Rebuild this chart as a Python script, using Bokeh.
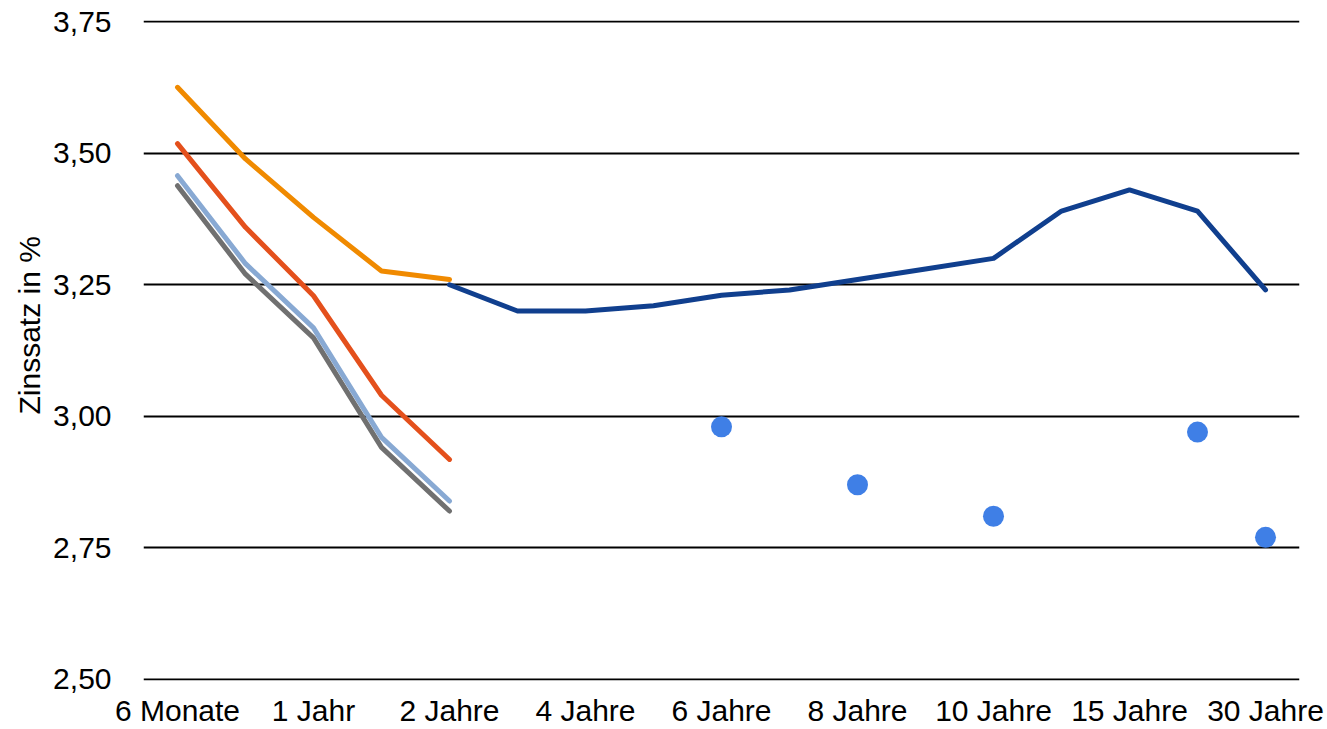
from bokeh.plotting import figure
from bokeh.models import Range1d, FixedTicker, CustomJSTickFormatter, Title
from bokeh.embed import file_html
from bokeh.resources import INLINE

# ---- data ----
categories = ["6 Monate", "9 Monate", "1 Jahr", "18 Monate", "2 Jahre", "3 Jahre",
              "4 Jahre", "5 Jahre", "6 Jahre", "7 Jahre", "8 Jahre", "9 Jahre",
              "10 Jahre", "12 Jahre", "15 Jahre", "20 Jahre", "30 Jahre"]
short_terms = ["6 Monate", "9 Monate", "1 Jahr", "18 Monate", "2 Jahre"]
orange_vals = [3.625, 3.489, 3.378, 3.276, 3.260]
red_vals = [3.518, 3.359, 3.229, 3.040, 2.918]
lightblue_vals = [3.457, 3.290, 3.168, 2.960, 2.839]
gray_vals = [3.438, 3.270, 3.149, 2.941, 2.820]
long_terms = ["2 Jahre", "3 Jahre", "4 Jahre", "5 Jahre", "6 Jahre", "7 Jahre", "8 Jahre",
              "9 Jahre", "10 Jahre", "12 Jahre", "15 Jahre", "20 Jahre", "30 Jahre"]
navy_vals = [3.25, 3.20, 3.20, 3.21, 3.23, 3.24, 3.26, 3.28, 3.30, 3.39, 3.43, 3.39, 3.24]
dot_terms = ["6 Jahre", "8 Jahre", "10 Jahre", "20 Jahre", "30 Jahre"]
dot_vals = [2.98, 2.87, 2.81, 2.97, 2.77]
y_ticks = [2.50, 2.75, 3.00, 3.25, 3.50, 3.75]
labelled_terms = ["6 Monate", "1 Jahr", "2 Jahre", "4 Jahre", "6 Jahre", "8 Jahre",
                  "10 Jahre", "15 Jahre", "30 Jahre"]
y_title = "Zinssatz in %"

def idx(terms):
    return [categories.index(t) for t in terms]

FONT = "Liberation Sans"
FS = "30px"

p = figure(width=1327, height=729, output_backend="svg", toolbar_location=None,
           x_range=Range1d(-0.5, len(categories) - 0.5), y_range=Range1d(2.498, 3.752),
           min_border_left=143, min_border_right=28, min_border_top=20, min_border_bottom=0)
p.outline_line_color = None
p.background_fill_color = "white"
p.border_fill_color = "white"

p.xgrid.grid_line_color = None
p.ygrid.grid_line_color = "black"
p.ygrid.grid_line_width = 1.8

p.yaxis.ticker = FixedTicker(ticks=y_ticks)
p.yaxis.formatter = CustomJSTickFormatter(code="return tick.toFixed(2).replace('.', ',');")
p.xaxis.ticker = FixedTicker(ticks=idx(labelled_terms))
p.xaxis.formatter = CustomJSTickFormatter(args=dict(labels=categories),
                                          code="return labels[Math.round(tick)];")
for ax in (p.xaxis, p.yaxis):
    ax.axis_line_color = None
    ax.major_tick_line_color = None
    ax.minor_tick_line_color = None
    ax.major_label_text_font = FONT
    ax.major_label_text_font_size = FS
    ax.major_label_text_color = "black"
p.xaxis.major_label_standoff = 7
p.yaxis.major_label_standoff = 26

# y-axis title as a side title, starting part-way up like the original
p.add_layout(Title(text=y_title, align="left", offset=266, standoff=10,
                   text_font=FONT, text_font_size=FS, text_font_style="normal",
                   text_color="black"), "left")

lw = 5
p.line(idx(short_terms), gray_vals, line_color="#707070", line_width=lw,
       line_cap="round", line_join="round")
p.line(idx(short_terms), lightblue_vals, line_color="#88A9D3", line_width=lw,
       line_cap="round", line_join="round")
p.line(idx(short_terms), red_vals, line_color="#E4501C", line_width=lw,
       line_cap="round", line_join="round")
p.line(idx(long_terms), navy_vals, line_color="#103F8E", line_width=lw,
       line_cap="round", line_join="round")
p.line(idx(short_terms), orange_vals, line_color="#F08A00", line_width=lw,
       line_cap="round", line_join="round")
p.scatter(idx(dot_terms), dot_vals, size=21, fill_color="#3F7FE6", line_color=None)

open("out.html", "w").write(file_html(p, INLINE))
